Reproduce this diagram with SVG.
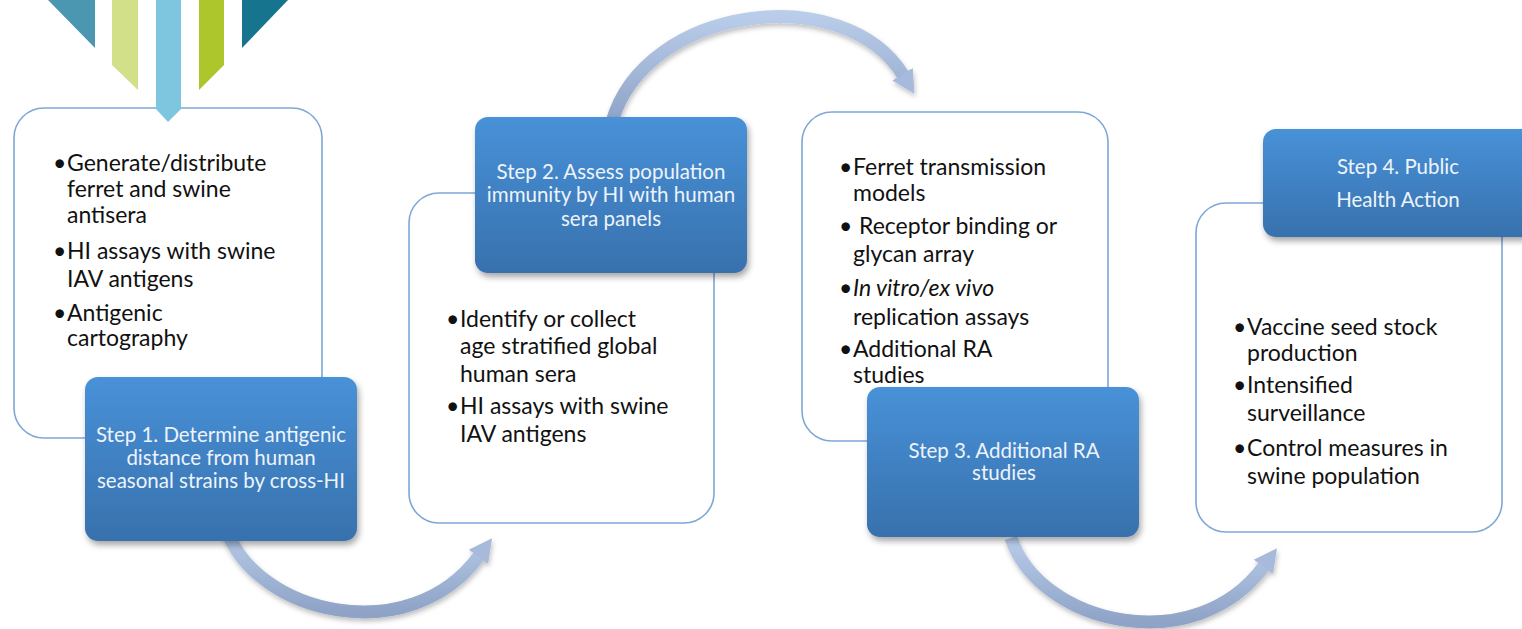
<svg xmlns="http://www.w3.org/2000/svg" width="1522" height="629" viewBox="0 0 1522 629">
  <defs>
    <linearGradient id="stepFill" x1="0" y1="0" x2="0" y2="1">
      <stop offset="0" stop-color="#4891d8"/>
      <stop offset="1" stop-color="#3871ad"/>
    </linearGradient>
    <linearGradient id="arrowFill" x1="0" y1="0" x2="0" y2="1">
      <stop offset="0" stop-color="#b9cce9"/>
      <stop offset="1" stop-color="#8ea3c6"/>
    </linearGradient>
    <filter id="boxShadow" x="-10%" y="-10%" width="125%" height="130%">
      <feDropShadow dx="2" dy="4" stdDeviation="3" flood-color="#000" flood-opacity="0.35"/>
    </filter>
    <filter id="arrowShadow" x="-10%" y="-10%" width="130%" height="130%">
      <feDropShadow dx="1" dy="3" stdDeviation="2.5" flood-color="#000" flood-opacity="0.25"/>
    </filter>
    <marker id="head" markerUnits="userSpaceOnUse" markerWidth="26" markerHeight="30" refX="1" refY="15" orient="auto">
      <path d="M0,3 L23,15 L0,27 Z" fill="#a7badb"/>
    </marker>
    <style>
      .panel { fill: #ffffff; stroke: #7ea7d7; stroke-width: 1.6; }
      .step { fill: url(#stepFill); filter: url(#boxShadow); }
      .stepText { font-family: Lato, "Open Sans", "Liberation Sans", sans-serif; font-size: 20.5px; fill: #eef3fa; text-anchor: middle; }
      .body { font-family: Lato, "Open Sans", "Liberation Sans", sans-serif; font-size: 23px; fill: #111111; }
      .flow { fill: none; stroke: url(#arrowFill); stroke-width: 13; marker-end: url(#head); filter: url(#arrowShadow); }
    </style>
  </defs>

  <!-- decorative banner strips -->
  <g id="banner">
    <polygon points="48,0 95,0 95,48" fill="#4b96b0"/>
    <polygon points="112,0 138,0 138,90 112,65" fill="#d3e08a"/>
    <polygon points="199,0 224,0 224,65 199,90" fill="#adc62c"/>
    <polygon points="242,0 288,0 242,48" fill="#17748f"/>
  </g>

  <!-- curved flow arrows -->
  <g id="connectors">
    <path class="flow" d="M 226 528 C 255 615 410 650 479 556"/>
    <path class="flow" d="M 612 122 C 645 5 845 -20 903 75"/>
    <path class="flow" d="M 1011 538 C 1040 625 1195 660 1264 566"/>
  </g>

  <!-- step 1 -->
  <g id="panel1">
    <rect class="panel" x="14" y="108" width="308" height="330" rx="30"/>
    <text class="body"><tspan x="53" y="171">•</tspan><tspan x="67" y="171">Generate/distribute</tspan></text>
    <text class="body" x="67" y="197">ferret and swine</text>
    <text class="body" x="67" y="223">antisera</text>
    <text class="body"><tspan x="53" y="259">•</tspan><tspan x="67" y="259">HI assays with swine</tspan></text>
    <text class="body" x="67" y="287">IAV antigens</text>
    <text class="body"><tspan x="53" y="321">•</tspan><tspan x="67" y="321">Antigenic</tspan></text>
    <text class="body" x="67" y="346">cartography</text>
  </g>
  <g id="banner-pointer">
    <polygon points="156,0 181,0 181,109 168,122 156,109" fill="#7ec5e0"/>
  </g>
  <g id="step1">
    <rect class="step" x="85" y="377" width="272" height="164" rx="13"/>
    <text class="stepText" x="221" y="442">Step 1. Determine antigenic</text>
    <text class="stepText" x="221" y="465">distance from human</text>
    <text class="stepText" x="221" y="488">seasonal strains by cross-HI</text>
  </g>

  <!-- step 2 -->
  <g id="panel2">
    <rect class="panel" x="409" y="193" width="305" height="330" rx="30"/>
    <text class="body"><tspan x="446" y="327">•</tspan><tspan x="460" y="327">Identify or collect</tspan></text>
    <text class="body" x="460" y="354">age stratified global</text>
    <text class="body" x="460" y="382">human sera</text>
    <text class="body"><tspan x="446" y="414">•</tspan><tspan x="460" y="414">HI assays with swine</tspan></text>
    <text class="body" x="460" y="442">IAV antigens</text>
  </g>
  <g id="step2">
    <rect class="step" x="475" y="117" width="272" height="156" rx="13"/>
    <text class="stepText" x="611" y="179">Step 2. Assess population</text>
    <text class="stepText" x="611" y="202">immunity by HI with human</text>
    <text class="stepText" x="611" y="226">sera panels</text>
  </g>

  <!-- step 3 -->
  <g id="panel3">
    <rect class="panel" x="802" y="112" width="306" height="329" rx="30"/>
    <text class="body"><tspan x="839" y="175">•</tspan><tspan x="853" y="175">Ferret transmission</tspan></text>
    <text class="body" x="853" y="201">models</text>
    <text class="body"><tspan x="839" y="234">•</tspan><tspan x="859" y="234">Receptor binding or</tspan></text>
    <text class="body" x="853" y="262">glycan array</text>
    <text class="body"><tspan x="839" y="296">•</tspan><tspan x="853" y="296" font-style="italic">In vitro/ex vivo</tspan></text>
    <text class="body" x="853" y="325">replication assays</text>
    <text class="body"><tspan x="839" y="357">•</tspan><tspan x="853" y="357">Additional RA</tspan></text>
    <text class="body" x="853" y="383">studies</text>
  </g>
  <g id="step3">
    <rect class="step" x="867" y="387" width="272" height="150" rx="13"/>
    <text class="stepText" x="1004" y="458">Step 3. Additional RA</text>
    <text class="stepText" x="1004" y="480">studies</text>
  </g>

  <!-- step 4 -->
  <g id="panel4">
    <rect class="panel" x="1196" y="203" width="306" height="329" rx="30"/>
    <text class="body"><tspan x="1233" y="335">•</tspan><tspan x="1247" y="335">Vaccine seed stock</tspan></text>
    <text class="body" x="1247" y="361">production</text>
    <text class="body"><tspan x="1233" y="393">•</tspan><tspan x="1247" y="393">Intensified</tspan></text>
    <text class="body" x="1247" y="421">surveillance</text>
    <text class="body"><tspan x="1233" y="456">•</tspan><tspan x="1247" y="456">Control measures in</tspan></text>
    <text class="body" x="1247" y="484">swine population</text>
  </g>
  <g id="step4">
    <rect class="step" x="1263" y="129" width="272" height="108" rx="13"/>
    <text class="stepText" x="1398" y="174">Step 4. Public</text>
    <text class="stepText" x="1398" y="207">Health Action</text>
  </g>
</svg>
